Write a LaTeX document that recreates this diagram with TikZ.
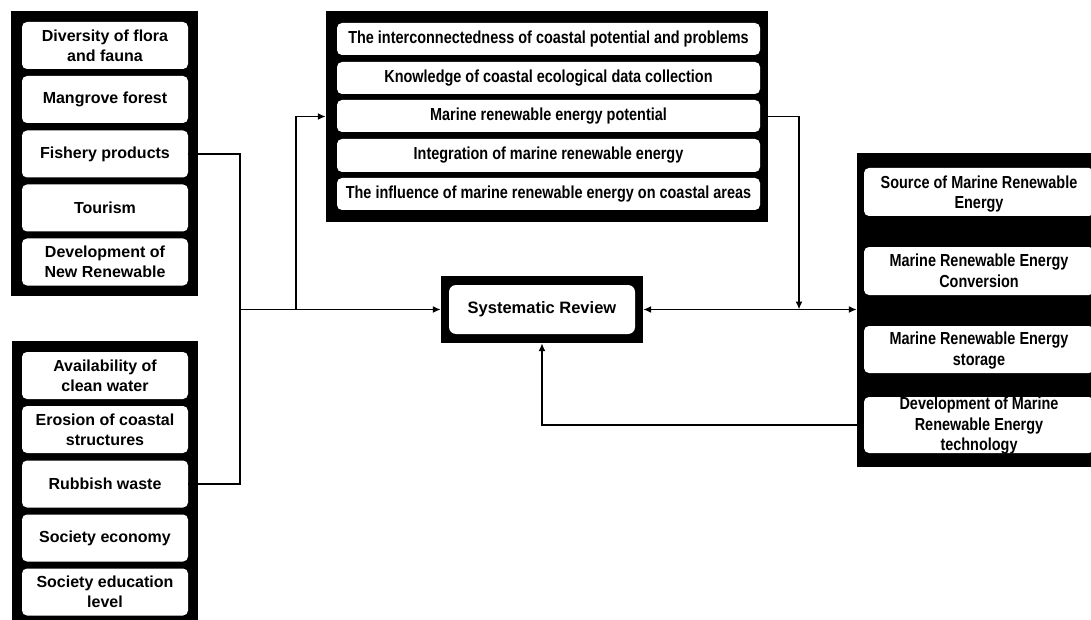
\documentclass[tikz,border=0pt]{standalone}
\usepackage{fontspec}
\setmainfont{Liberation Sans}
\newfontfamily\cfont[FakeStretch=0.83]{Liberation Sans}
\usetikzlibrary{arrows.meta}
\begin{document}
\begin{tikzpicture}[x=1pt,y=-1pt,
  panel/.style={rectangle, fill=black, draw=none, inner sep=0pt},
  wbox/.style={rectangle, fill=white, draw=none, rounded corners=5pt, inner sep=0pt},
  ltxt/.style={align=center, inner sep=0pt, text=black, font=\fontsize{16}{20}\selectfont\bfseries},
  ctxt/.style={align=center, inner sep=0pt, text=black, font=\cfont\bfseries\fontsize{17.4}{20.5}\selectfont},
  srtxt/.style={align=center, inner sep=0pt, text=black, font=\fontsize{16.5}{19}\selectfont\bfseries},
  conn/.style={line width=1.8pt, draw=black},
  arr/.style={conn, -{Latex[length=8pt,width=7pt]}},
  darr/.style={conn, {Latex[length=8pt,width=7pt]}-{Latex[length=8pt,width=7pt]}},
]
\clip (0,0) rectangle (1091,620);
\fill[white] (0,0) rectangle (1091,620);

% ---------- left top panel ----------
\node[panel, minimum width=187pt, minimum height=285pt] (ltp) at (104.5,153.5) {};
\node[wbox, minimum width=166pt, minimum height=47pt, label={[ltxt]center:Diversity of flora\\and fauna}] (l1) at (105,45.5) {};
\node[wbox, minimum width=166pt, minimum height=47pt, label={[ltxt]center:Mangrove forest}] (l2) at (105,99.5) {};
\node[wbox, minimum width=166pt, minimum height=47pt, label={[ltxt]center:Fishery products}] (l3) at (105,154) {};
\node[wbox, minimum width=166pt, minimum height=47pt, label={[ltxt]center:Tourism}] (l4) at (105,208) {};
\node[wbox, minimum width=166pt, minimum height=47pt, label={[ltxt]center:Development of\\New Renewable}] (l5) at (105,262) {};

% ---------- left bottom panel ----------
\node[panel, minimum width=186pt, minimum height=299pt] (lbp) at (105,490.5) {};
\node[wbox, minimum width=166pt, minimum height=47pt, label={[ltxt]center:Availability of\\clean water}] (b1) at (105,375.5) {};
\node[wbox, minimum width=166pt, minimum height=47pt, label={[ltxt]center:Erosion of coastal\\structures}] (b2) at (105,429.5) {};
\node[wbox, minimum width=166pt, minimum height=47pt, label={[ltxt]center:Rubbish waste}] (b3) at (105,484) {};
\node[wbox, minimum width=166pt, minimum height=47pt, label={[ltxt]center:Society economy}] (b4) at (105,538) {};
\node[wbox, minimum width=166pt, minimum height=47pt, label={[ltxt]center:Society education\\level}] (b5) at (105,592) {};

% ---------- top panel ----------
\node[panel, minimum width=442pt, minimum height=211pt] (tp) at (547,116.5) {};
\node[wbox, minimum width=423pt, minimum height=32pt, label={[ctxt]center:The interconnectedness of coastal potential and problems}] (t1) at (548.5,39) {};
\node[wbox, minimum width=423pt, minimum height=32pt, label={[ctxt]center:Knowledge of coastal ecological data collection}] (t2) at (548.5,78) {};
\node[wbox, minimum width=423pt, minimum height=32pt, label={[ctxt]center:Marine renewable energy potential}] (t3) at (548.5,116) {};
\node[wbox, minimum width=423pt, minimum height=33pt, label={[ctxt]center:Integration of marine renewable energy}] (t4) at (548.5,155.5) {};
\node[wbox, minimum width=423pt, minimum height=32pt, label={[ctxt]center:The influence of marine renewable energy on coastal areas}] (t5) at (548.5,194) {};

% ---------- systematic review ----------
\node[panel, minimum width=202pt, minimum height=67pt] (sro) at (542,309.5) {};
\node[wbox, rounded corners=7pt, minimum width=186pt, minimum height=49pt, label={[srtxt]center:Systematic Review}] (sri) at (542,309.5) {};

% ---------- right panel ----------
\node[panel, minimum width=243pt, minimum height=314pt] (rp) at (978.5,310) {};
\node[wbox, minimum width=230pt, minimum height=48pt, label={[ctxt,yshift=-2pt]center:Source of Marine Renewable\\Energy}] (r1) at (979,192) {};
\node[wbox, minimum width=230pt, minimum height=48pt, label={[ctxt]center:Marine Renewable Energy\\Conversion}] (r2) at (979,271) {};
\node[wbox, minimum width=230pt, minimum height=47pt, label={[ctxt,yshift=-1pt]center:Marine Renewable Energy\\storage}] (r3) at (979,349.5) {};
\node[wbox, minimum width=230pt, minimum height=56pt, label={[ctxt,yshift=-1pt]center:Development of Marine\\Renewable Energy\\technology}] (r4) at (979,425) {};

% ---------- connectors ----------
\coordinate (j1) at (240,309.5);
\coordinate (j2) at (296,309.5);
\coordinate (j3) at (799,309.5);
\draw[conn] (l3.east) -| (j1);
\draw[conn] (b3.east) -| (j1);
\draw[arr] (j1) -- (sro.west);
\draw[arr] (j2) |- (tp.west);
\draw[arr] (tp.east) -| (j3);
\draw[darr] (sro.east) -- (sro.east -| rp.west);
\draw[arr] (r4.west) -| (sro.south);
\end{tikzpicture}
\end{document}
